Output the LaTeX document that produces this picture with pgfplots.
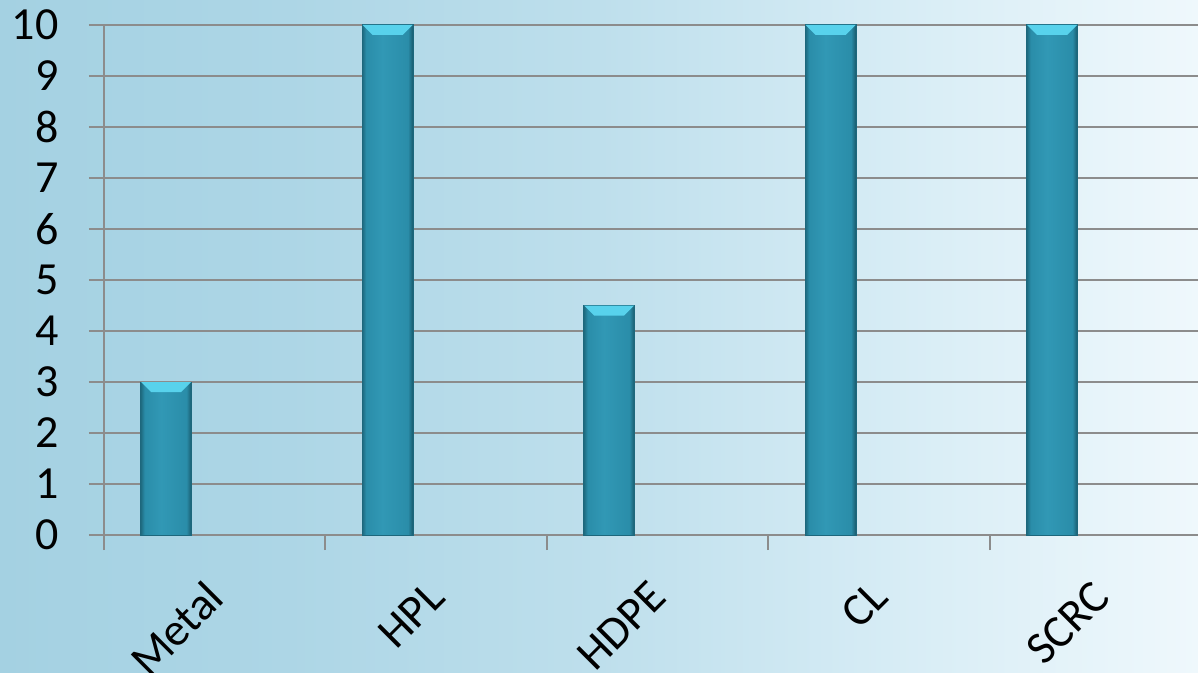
\documentclass[border=0pt]{standalone}
\usepackage{fontspec}
\setmainfont{Carlito}
\usepackage{pgfplots}
\pgfplotsset{compat=1.18}

\definecolor{bg0}{HTML}{A4D1E2}
\definecolor{bg1}{HTML}{ADD6E6}
\definecolor{bg2}{HTML}{BEDFEC}
\definecolor{bg3}{HTML}{D6ECF5}
\definecolor{bg4}{HTML}{EFF8FC}
\definecolor{gridgray}{HTML}{8C8C8C}
\definecolor{bardark}{HTML}{1D677C}
\definecolor{bardarkr}{HTML}{195A6C}
\definecolor{barmain}{HTML}{2A8DA9}
\definecolor{barlight}{HTML}{3198B5}
\definecolor{barcap}{HTML}{58D2EC}

% tikz maps 25bp..75bp of a shading onto the path
\pgfdeclarehorizontalshading{bgshade}{100bp}{color(0bp)=(bg0); color(25bp)=(bg0); color(37bp)=(bg1); color(50bp)=(bg2); color(62bp)=(bg3); color(75bp)=(bg4); color(100bp)=(bg4)}
\pgfdeclarehorizontalshading{barshade}{100bp}{color(0bp)=(bardark); color(25bp)=(bardark); color(29bp)=(barmain); color(45bp)=(barlight); color(70bp)=(barmain); color(75bp)=(bardarkr); color(100bp)=(bardarkr)}

% light bevel on top of each bar
\pgfdeclareplotmark{bevel}{%
  \pgfpathmoveto{\pgfpoint{-25pt}{0pt}}%
  \pgfpathlineto{\pgfpoint{25pt}{0pt}}%
  \pgfpathlineto{\pgfpoint{15pt}{-10pt}}%
  \pgfpathlineto{\pgfpoint{-15pt}{-10pt}}%
  \pgfpathclose
  \pgfusepath{fill}}

\pgfplotsset{barstyle/.style={ybar, bar width=51pt, shade, shading=barshade, draw=bardark, line width=1pt}}

\begin{document}
\begin{tikzpicture}
\useasboundingbox (-104pt,-137pt) rectangle (1094pt,535pt);
\clip (-104pt,-137pt) rectangle (1094pt,535pt);
\shade[shading=bgshade] (-104pt,-137pt) rectangle (1094pt,535pt);
\begin{axis}[
  at={(0,0)}, anchor=south west,
  scale only axis, width=1094pt, height=510pt,
  xmin=0, xmax=4.939, ymin=0, ymax=10,
  axis lines=left, axis line style={-, draw=gridgray, line width=2pt},
  ymajorgrids, grid style={draw=gridgray, line width=2pt},
  ytick={0,...,10},
  xtick={0.5,1.5,2.5,3.5,4.5},
  xticklabels={Metal,HPL,HDPE,CL,SCRC},
  minor xtick={0,1,2,3,4},
  tick align=outside, major tick length=15pt, minor tick length=15pt,
  tick style={draw=gridgray, line width=2pt},
  major x tick style={draw=none},
  ticklabel style={font=\fontsize{46}{52}\selectfont, text=black},
  /pgf/number format/assume math mode=true,
  yticklabel style={xshift=-27pt},
  xticklabel style={xshift=3pt, yshift=-37pt, rotate=45, anchor=east},
]
% one plot per bar so that each bar gets its own shading
\addplot[barstyle] coordinates {(0.28,3)};
\addplot[barstyle] coordinates {(1.28,10)};
\addplot[barstyle] coordinates {(2.28,4.5)};
\addplot[barstyle] coordinates {(3.28,10)};
\addplot[barstyle] coordinates {(4.28,10)};
\addplot[only marks, mark=bevel, mark options={fill=barcap, draw=none}]
  coordinates {(0.28,3) (1.28,10) (2.28,4.5) (3.28,10) (4.28,10)};
\end{axis}
\end{tikzpicture}
\end{document}
